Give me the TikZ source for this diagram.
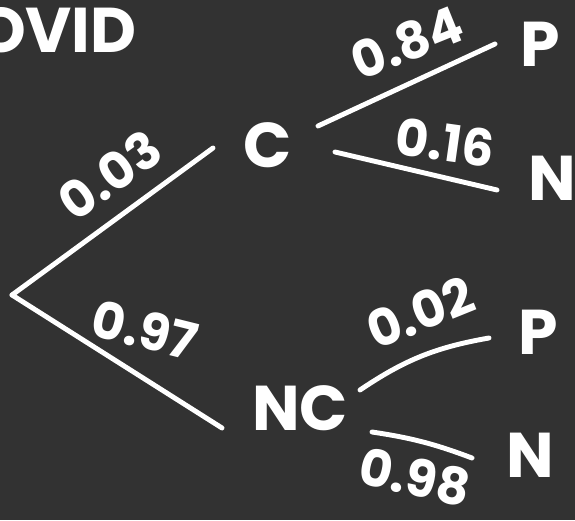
\documentclass[tikz,border=0pt]{standalone}
\usepackage{fontspec}
\setmainfont{Poppins}
\usetikzlibrary{calc}
\definecolor{board}{RGB}{50,50,50}
\begin{document}
\begin{tikzpicture}[
        estado/.style={text=white, font=\fontsize{36}{38}\selectfont\bfseries, inner sep=0pt},
        prob/.style={text=white, font=\fontsize{29}{31}\selectfont\bfseries, inner sep=0pt},
        rama/.style={draw=white, line width=2.8pt, line cap=round}]
    \fill[board] (0,0) rectangle (11.5,10.4);
    \useasboundingbox (0,0) rectangle (11.5,10.4);
    \node[estado, anchor=east] (titulo) at (2.74,9.8) {COVID};
    \coordinate (root) at (0.24,4.5);
    \node[estado] (c) at (5.36,7.5) {C};
    \node[estado] (nc) at (6.0,2.24) {NC};
    \node[estado] (cp) at (10.8,9.52) {P};
    \node[estado] (cn) at (11.04,6.84) {N};
    \node[estado] (ncp) at (10.76,3.76) {P};
    \node[estado] (ncn) at (10.6,1.3) {N};
    \draw[rama] (root) -- ([shift={(-1.1,-0.06)}]c.center);
    \draw[rama] (root) -- ([shift={(-1.56,-0.4)}]nc.center);
    \draw[rama] ([shift={(1.0,0.38)}]c.center) -- ([shift={(-0.9,0.0)}]cp.center);
    \draw[rama] ([shift={(1.34,-0.14)}]c.center) -- ([shift={(-1.1,-0.24)}]cn.center);
    \draw[rama] ([shift={(1.2,0.36)}]nc.center) to[bend left=12] ([shift={(-0.98,-0.12)}]ncp.center);
    \draw[rama] ([shift={(1.44,-0.48)}]nc.center) to[bend left=6] ([shift={(-1.16,-0.06)}]ncn.center);
    \node[prob, rotate=36] (p03) at (2.2,6.9) {0.03};
    \node[prob, rotate=-14] (p97) at (2.9,3.8) {0.97};
    \node[prob, rotate=22] (p84) at (8.14,9.55) {0.84};
    \node[prob, rotate=-8] (p16) at (8.9,7.55) {0.16};
    \node[prob, rotate=22] (p02) at (8.4,4.15) {0.02};
    \node[prob, rotate=-12] (p98) at (8.3,0.86) {0.98};
\end{tikzpicture}
\end{document}
